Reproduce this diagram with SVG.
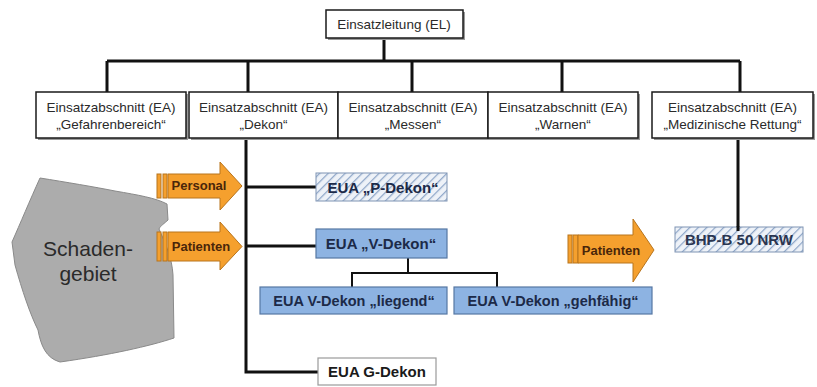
<svg xmlns="http://www.w3.org/2000/svg" width="817" height="387" viewBox="0 0 817 387">
<defs>
<pattern id="hatch" patternUnits="userSpaceOnUse" width="6" height="6" patternTransform="rotate(45)">
<rect width="6" height="6" fill="#eef2f8"/>
<line x1="0" y1="0" x2="0" y2="6" stroke="#8ea6c8" stroke-width="2.5"/>
</pattern>
<style>
.ea{fill:#fff;stroke:#1a1a1a;stroke-width:1.5}
.sh{fill:#9a9a9a}
.t{font-family:"Liberation Sans",Arial,sans-serif;font-size:13.5px;fill:#2a2a2a;text-anchor:middle}
.b{font-family:"Liberation Sans",Arial,sans-serif;font-weight:bold;fill:#1c2a48;text-anchor:middle}
.hatchbox{fill:url(#hatch);stroke:#7f94b3;stroke-width:1}
.blue{fill:#8db3e2;stroke:#5677a3;stroke-width:1.2}
.arr{fill:#f5a02e;stroke:#b8741c;stroke-width:1}
.at{font-family:"Liberation Sans",Arial,sans-serif;font-weight:bold;font-size:13px;fill:#4a260a;text-anchor:middle}
.c{fill:none;stroke:#111;stroke-width:3}
.c2{fill:none;stroke:#111;stroke-width:2}
.sg{font-family:"Liberation Sans",Arial,sans-serif;font-size:21px;fill:#2a2a2a;text-anchor:middle}
</style>
</defs>
<rect width="817" height="387" fill="#fff"/>

<g id="connectors">
<path class="c" d="M384,38 V61 M107,61 H740 M107,61 V92 M248,61 V92 M412,61 V92 M562,61 V92 M740,61 V92"/>
<path class="c" d="M246,138 V372 H318 M246,187 H316 M246,246 H316"/>
<path class="c" d="M738,138 V231"/>
<path class="c2" d="M408,258 V273 M352,287 V273 H497 V287"/>
</g>

<g id="schadengebiet">
<path d="M40,178 C65,182 95,187 115,191 C138,195 156,198 167,204 L168,220 C165,223 160,226 159,229 C166,245 172,258 173,275 L174,338 C150,346 110,355 60,362 C46,358 41,346 38,330 C30,314 22,290 15,265 L12,242 C20,224 30,200 40,178 Z" fill="#acacac" stroke="#8a8a8a" stroke-width="1"/>
<text class="sg" x="88" y="256">Schaden-</text>
<text class="sg" x="88" y="281">gebiet</text>
</g>

<g id="el">
<rect class="sh" x="328" y="12" width="137" height="28"/>
<rect class="ea" x="326" y="10" width="137" height="28"/>
<text class="t" x="394" y="29">Einsatzleitung (EL)</text>
</g>

<g id="ea-gefahrenbereich">
<rect class="sh" x="38" y="94" width="150" height="46"/>
<rect class="ea" x="36" y="92" width="150" height="46"/>
<text class="t" x="111" y="112">Einsatzabschnitt (EA)</text>
<text class="t" x="111" y="129">„Gefahrenbereich“</text>
</g>
<g id="ea-dekon">
<rect class="sh" x="191" y="94" width="149" height="46"/>
<rect class="ea" x="189" y="92" width="149" height="46"/>
<text class="t" x="263.5" y="112">Einsatzabschnitt (EA)</text>
<text class="t" x="263.5" y="129">„Dekon“</text>
</g>
<g id="ea-messen">
<rect class="sh" x="340" y="94" width="150" height="46"/>
<rect class="ea" x="338" y="92" width="150" height="46"/>
<text class="t" x="413" y="112">Einsatzabschnitt (EA)</text>
<text class="t" x="413" y="129">„Messen“</text>
</g>
<g id="ea-warnen">
<rect class="sh" x="490" y="94" width="150" height="46"/>
<rect class="ea" x="488" y="92" width="150" height="46"/>
<text class="t" x="563" y="112">Einsatzabschnitt (EA)</text>
<text class="t" x="563" y="129">„Warnen“</text>
</g>
<g id="ea-medizin">
<rect class="sh" x="654" y="94" width="161" height="46"/>
<rect class="ea" x="652" y="92" width="161" height="46"/>
<text class="t" x="732.5" y="112">Einsatzabschnitt (EA)</text>
<text class="t" x="732.5" y="129">„Medizinische Rettung“</text>
</g>

<g id="arrow-personal">
<rect class="arr" x="157" y="174" width="4" height="24"/>
<rect class="arr" x="163" y="174" width="4" height="24"/>
<path class="arr" d="M168,174 H220 V162 L242,186 L220,210 V198 H168 Z"/>
<text class="at" x="199" y="190">Personal</text>
</g>
<g id="arrow-patienten-1">
<rect class="arr" x="157" y="232" width="4" height="29"/>
<rect class="arr" x="163" y="232" width="4" height="29"/>
<path class="arr" d="M168,232 H220 V222 L242,246.5 L220,270 V261 H168 Z"/>
<text class="at" x="201" y="251">Patienten</text>
</g>
<g id="arrow-patienten-2">
<rect class="arr" x="568" y="235" width="4" height="28"/>
<rect class="arr" x="573" y="235" width="5" height="28"/>
<path class="arr" d="M578,235 H633 V219 L654,250 L633,282 V263 H578 Z"/>
<text class="at" x="611" y="255">Patienten</text>
</g>

<g id="p-dekon">
<rect class="hatchbox" x="316" y="173" width="131" height="28"/>
<text class="b" x="383" y="193" font-size="15">EUA „P-Dekon“</text>
</g>
<g id="v-dekon">
<rect class="blue" x="316" y="229" width="131" height="29"/>
<text class="b" x="381" y="249" font-size="15">EUA „V-Dekon“</text>
</g>
<g id="v-dekon-liegend">
<rect class="blue" x="260" y="287" width="187" height="27"/>
<text class="b" x="354" y="306" font-size="14.5">EUA V-Dekon „liegend“</text>
</g>
<g id="v-dekon-gehfaehig">
<rect class="blue" x="454" y="287" width="198" height="27"/>
<text class="b" x="553" y="306" font-size="14.5">EUA V-Dekon „gehfähig“</text>
</g>
<g id="g-dekon">
<rect x="318" y="358" width="118" height="27" fill="#fff" stroke="#9a9a9a" stroke-width="1.2"/>
<text class="b" x="377" y="377" font-size="15" style="fill:#1a1a1a">EUA G-Dekon</text>
</g>
<g id="bhp">
<rect class="hatchbox" x="675" y="227" width="128" height="25"/>
<path class="c" d="M738,226 V231"/>
<text class="b" x="739" y="245" font-size="15" style="fill:#2a3550">BHP-B 50 NRW</text>
</g>
</svg>
